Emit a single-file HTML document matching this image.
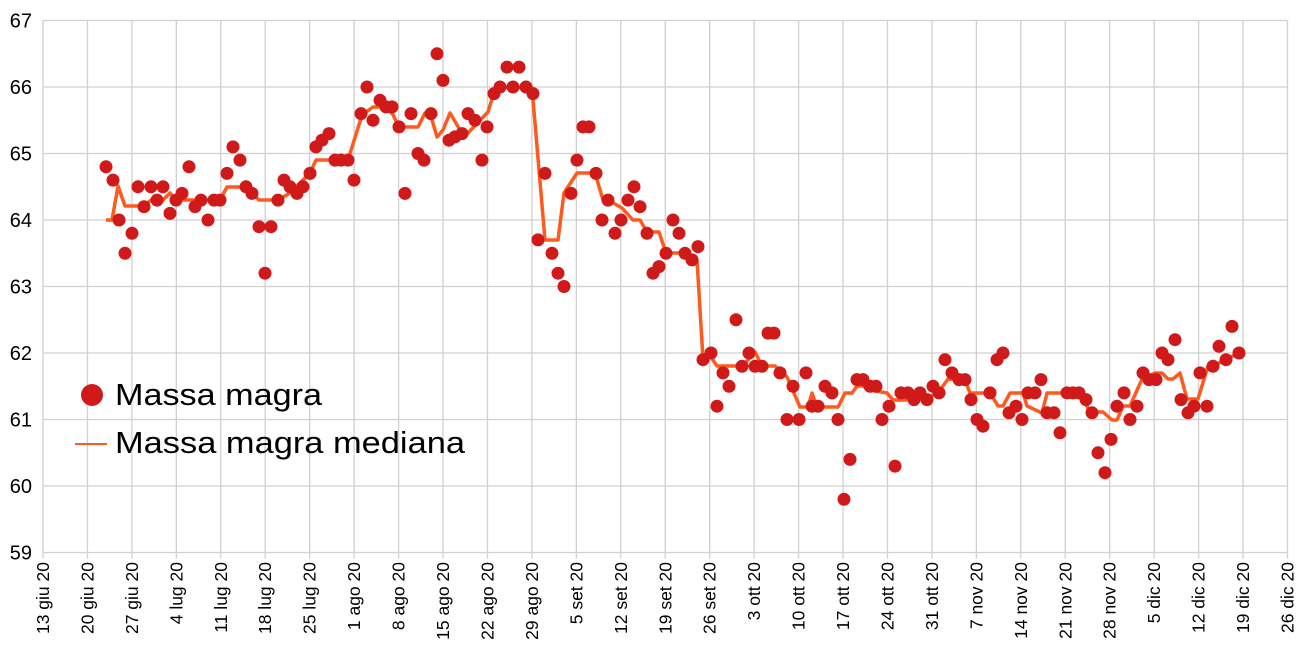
<!DOCTYPE html>
<html><head><meta charset="utf-8"><style>
html,body{margin:0;padding:0;background:#fff;width:1311px;height:670px;overflow:hidden}
svg{display:block;font-family:"Liberation Sans",Arial,sans-serif}
</style></head><body>
<svg id="s" width="1311" height="670" viewBox="0 0 1311 670" xmlns="http://www.w3.org/2000/svg">
<g id="grid" stroke="#d0d0d0" stroke-width="1.3"></g>
<g id="ylab" font-size="20" fill="#000" text-anchor="end"></g>
<g id="xlab" font-size="17.5" fill="#000" text-anchor="end"></g>
<polyline id="med" fill="none" stroke="#ff5a1e" stroke-width="3.5" stroke-linejoin="round"></polyline>
<g id="dots" fill="#d01a1a"></g>
<circle cx="92" cy="395" r="11" fill="#d01a1a"/>
<text x="115" y="405" font-size="31" textLength="207" lengthAdjust="spacingAndGlyphs">Massa magra</text>
<line x1="75" y1="444" x2="107" y2="444" stroke="#ff5a1e" stroke-width="2"/>
<text x="115" y="453" font-size="31" textLength="350" lengthAdjust="spacingAndGlyphs">Massa magra mediana</text>
</svg>
<script>
var NS="http://www.w3.org/2000/svg";
function el(t,a,p,txt){var e=document.createElementNS(NS,t);for(var k in a)e.setAttribute(k,a[k]);if(txt)e.textContent=txt;document.getElementById(p).appendChild(e);return e;}
function Y(v){return 20.5+(67-v)*66.5;}
var x0=43,x1=1287.5;
for(var v=59;v<=67;v++){el('line',{x1:x0,x2:x1,y1:Y(v),y2:Y(v)},'grid');el('text',{x:32,y:Y(v)+7},'ylab',''+v);}
var labs=["13 giu 20","20 giu 20","27 giu 20","4 lug 20","11 lug 20","18 lug 20","25 lug 20","1 ago 20","8 ago 20","15 ago 20","22 ago 20","29 ago 20","5 set 20","12 set 20","19 set 20","26 set 20","3 ott 20","10 ott 20","17 ott 20","24 ott 20","31 ott 20","7 nov 20","14 nov 20","21 nov 20","28 nov 20","5 dic 20","12 dic 20","19 dic 20","26 dic 20"];
for(var i=0;i<labs.length;i++){var x=x0+i*(x1-x0)/28;el('line',{x1:x,x2:x,y1:Y(67),y2:Y(59)+6},'grid');el('text',{transform:'translate('+(x+6)+',562) rotate(-90)'},'xlab',labs[i]);}
var d=[[106,64.8],[113,64.6],[119,64.0],[125,63.5],[132,63.8],[138,64.5],[144,64.2],[151,64.5],[157,64.3],[163,64.5],[170,64.1],[176,64.3],[182,64.4],[189,64.8],[195,64.2],[201,64.3],[208,64.0],[214,64.3],[220,64.3],[227,64.7],[233,65.1],[240,64.9],[246,64.5],[252,64.4],[259,63.9],[265,63.2],[271,63.9],[278,64.3],[284,64.6],[290,64.5],[297,64.4],[303,64.5],[310,64.7],[316,65.1],[322,65.2],[329,65.3],[335,64.9],[341,64.9],[348,64.9],[354,64.6],[361,65.6],[367,66.0],[373,65.5],[380,65.8],[386,65.7],[392,65.7],[399,65.4],[405,64.4],[411,65.6],[418,65.0],[424,64.9],[431,65.6],[437,66.5],[443,66.1],[449,65.2],[455,65.25],[462,65.3],[468,65.6],[475,65.5],[482,64.9],[487,65.4],[494,65.9],[500,66.0],[507,66.3],[513,66.0],[519,66.3],[526,66.0],[533,65.9],[538,63.7],[545,64.7],[552,63.5],[558,63.2],[564,63.0],[571,64.4],[577,64.9],[583,65.4],[589,65.4],[596,64.7],[602,64.0],[608,64.3],[615,63.8],[621,64.0],[628,64.3],[634,64.5],[640,64.2],[647,63.8],[653,63.2],[659,63.3],[666,63.5],[673,64.0],[679,63.8],[685,63.5],[692,63.4],[698,63.6],[703,61.9],[711,62.0],[717,61.2],[723,61.7],[729,61.5],[736,62.5],[742,61.8],[749,62.0],[755,61.8],[762,61.8],[768,62.3],[774,62.3],[780,61.7],[787,61.0],[793,61.5],[799,61.0],[806,61.7],[812,61.2],[818,61.2],[825,61.5],[832,61.4],[838,61.0],[844,59.8],[850,60.4],[857,61.6],[863,61.6],[870,61.5],[876,61.5],[882,61.0],[889,61.2],[895,60.3],[901,61.4],[908,61.4],[914,61.3],[920,61.4],[927,61.3],[933,61.5],[939,61.4],[945,61.9],[952,61.7],[959,61.6],[965,61.6],[971,61.3],[977,61.0],[983,60.9],[990,61.4],[997,61.9],[1003,62.0],[1009,61.1],[1016,61.2],[1022,61.0],[1028,61.4],[1035,61.4],[1041,61.6],[1047,61.1],[1054,61.1],[1060,60.8],[1067,61.4],[1073,61.4],[1079,61.4],[1086,61.3],[1092,61.1],[1098,60.5],[1105,60.2],[1111,60.7],[1117,61.2],[1124,61.4],[1130,61.0],[1137,61.2],[1143,61.7],[1149,61.6],[1156,61.6],[1162,62.0],[1168,61.9],[1175,62.2],[1181,61.3],[1188,61.1],[1194,61.2],[1200,61.7],[1207,61.2],[1213,61.8],[1219,62.1],[1226,61.9],[1232,62.4],[1239,62.0]];
d.forEach(function(p){el('circle',{cx:p[0],cy:Y(p[1]).toFixed(1),r:6.5},'dots');});
var m=[[106,220],[112,220],[118,186],[125,206],[144,206],[151,200],[163,200],[170,193],[176,200],[220,200],[227,187],[246,187],[252,193],[259,200],[278,200],[290,193],[303,180],[310,173],[316,160],[348,160],[362,115],[373,107],[380,107],[392,113],[399,127],[418,127],[425,113],[430,113],[437,137],[443,130],[450,113],[460,130],[468,133],[488,112],[494,92],[500,87],[532,88],[545,240],[558,240],[564,193],[577,173],[595,173],[603,200],[608,200],[622,208],[633,220],[640,220],[647,232],[659,232],[666,253],[685,253],[697,260],[703,359],[711,357],[717,366],[742,366],[748,360],[755,352],[762,366],[775,366],[787,377],[800,407],[808,407],[812,393],[817,407],[838,407],[845,393],[852,393],[857,386],[863,386],[870,390],[887,393],[893,400],[907,400],[920,393],[930,397],[940,390],[948,379],[965,380],[970,393],[990,393],[998,406],[1003,406],[1010,393],[1023,393],[1027,406],[1042,413],[1047,393],[1080,393],[1090,412],[1103,412],[1112,420],[1117,420],[1123,406],[1130,406],[1142,379],[1155,373],[1162,373],[1168,379],[1173,379],[1180,373],[1187,399],[1198,399],[1208,366],[1213,366],[1227,359],[1239,353]];
document.getElementById('med').setAttribute('points',m.map(function(p){return p.join(',');}).join(' '));
</script>
</body></html>
